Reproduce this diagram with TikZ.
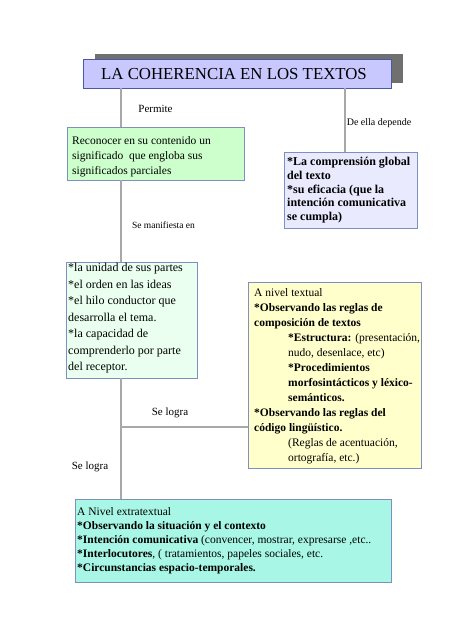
\documentclass[tikz,border=0pt]{standalone}
\usepackage{fontspec}
\setmainfont{Liberation Serif}
\definecolor{shadowgray}{HTML}{707070}
\definecolor{titlefill}{HTML}{C8C8FF}
\definecolor{titleborder}{HTML}{4A5AA0}
\definecolor{boxborder}{HTML}{7F8FBF}
\definecolor{greenA}{HTML}{CCFFCC}
\definecolor{blueA}{HTML}{EAEAFF}
\definecolor{greenB}{HTML}{EAFFF0}
\definecolor{yellowA}{HTML}{FFFFCC}
\definecolor{aquaA}{HTML}{A8F7E6}
\definecolor{linegray}{HTML}{A8A8A8}
\begin{document}
\begin{tikzpicture}[x=1pt,y=-1pt,
  box/.style={draw=boxborder, line width=0.8pt, anchor=north west, inner sep=0pt, outer sep=0pt},
  conn/.style={draw=linegray, line width=1.5pt},
  lbl/.style={inner sep=0pt},
  txt/.style={anchor=north west, inner sep=0pt, align=left}]
\useasboundingbox (0,0) rectangle (452,640);
\fill[white] (0,0) rectangle (452,640);

% title
\node[fill=shadowgray, anchor=north west, inner sep=0pt, minimum width=308pt, minimum height=29pt] (shadow) at (95,54) {};
\node[box, draw=titleborder, fill=titlefill, minimum width=308pt, minimum height=29pt] (title) at (83,59) {};
\node[lbl, font=\fontsize{16.8}{19}\selectfont] (titletext) at (234,74) {LA COHERENCIA EN LOS TEXTOS};

% boxes
\node[box, fill=greenA, minimum width=177pt, minimum height=53pt] (g1) at (67,127) {};
\node[box, fill=blueA, minimum width=133pt, minimum height=76pt] (b1) at (284,152) {};
\node[box, fill=greenB, minimum width=131pt, minimum height=116pt] (g2) at (66,262) {};
\node[box, fill=yellowA, minimum width=173pt, minimum height=186pt] (y1) at (248,282) {};
\node[box, fill=aquaA, minimum width=316pt, minimum height=83pt] (a1) at (75,499) {};

% connector guide coordinates
\coordinate (cx) at (121,0);
\coordinate (rx) at (345,0);
\coordinate (hy) at (0,427);

\draw[conn] (title.south -| cx) -- (g1.north -| cx);
\draw[conn] (title.south -| rx) -- (b1.north -| rx);
\draw[conn] (g1.south -| cx) -- (g2.north -| cx);
\draw[conn] (g2.south -| cx) -- (a1.north -| cx);
\draw[conn] (cx |- hy) -- (y1.west |- hy);

% labels
\node[lbl, font=\fontsize{11}{13}\selectfont] (lpermite) at (155.5,109) {Permite};
\node[lbl, font=\fontsize{10}{12}\selectfont] (ldepende) at (379,123) {De ella depende};
\node[lbl, font=\fontsize{9.5}{11}\selectfont] (lmanif) at (163.5,225) {Se manifiesta en};
\node[lbl, font=\fontsize{11}{13}\selectfont] (llogra1) at (170,413) {Se logra};
\node[lbl, font=\fontsize{11}{13}\selectfont] (llogra2) at (90,467) {Se logra};

% box texts
\node[txt, font=\fontsize{11.5}{15}\selectfont] (g1text) at (72,136.6)
  {Reconocer en su contenido un\\significado\ \ que engloba sus\\significados parciales};
\node[txt, font=\fontsize{12}{13.8}\selectfont\bfseries] (b1text) at (287,157)
  {*La comprensión global\\del texto\\*su eficacia (que la\\intención comunicativa\\se cumpla)};
\node[txt, font=\fontsize{12}{16.5}\selectfont] (g2text) at (68,263)
  {*la unidad de sus partes\\*el orden en las ideas\\*el hilo conductor que\\desarrolla el tema.\\*la capacidad de\\comprenderlo por parte\\del receptor.};
\node[txt, font=\fontsize{11.5}{15}\selectfont] (y1text) at (254,288.6)
  {A nivel textual\\
   \textbf{*Observando las reglas de}\\
   \textbf{composición de textos}\\
   \hspace*{34pt}\textbf{*Estructura:} (presentación,\\
   \hspace*{34pt}nudo, desenlace, etc)\\
   \hspace*{34pt}\textbf{*Procedimientos}\\
   \hspace*{34pt}\textbf{morfosintácticos y léxico-}\\
   \hspace*{34pt}\textbf{semánticos.}\\
   \textbf{*Observando las reglas del}\\
   \textbf{código lingüístico.}\\
   \hspace*{34pt}(Reglas de acentuación,\\
   \hspace*{34pt}ortografía, etc.)};
\node[txt, font=\fontsize{11.5}{14}\selectfont] (a1text) at (77,507.6)
  {A Nivel extratextual\\
   \textbf{*Observando la situación y el contexto}\\
   \textbf{*Intención comunicativa} (convencer, mostrar, expresarse ,etc..\\
   \textbf{*Interlocutores}, ( tratamientos, papeles sociales, etc.\\
   \textbf{*Circunstancias espacio-temporales.}};
\end{tikzpicture}
\end{document}
